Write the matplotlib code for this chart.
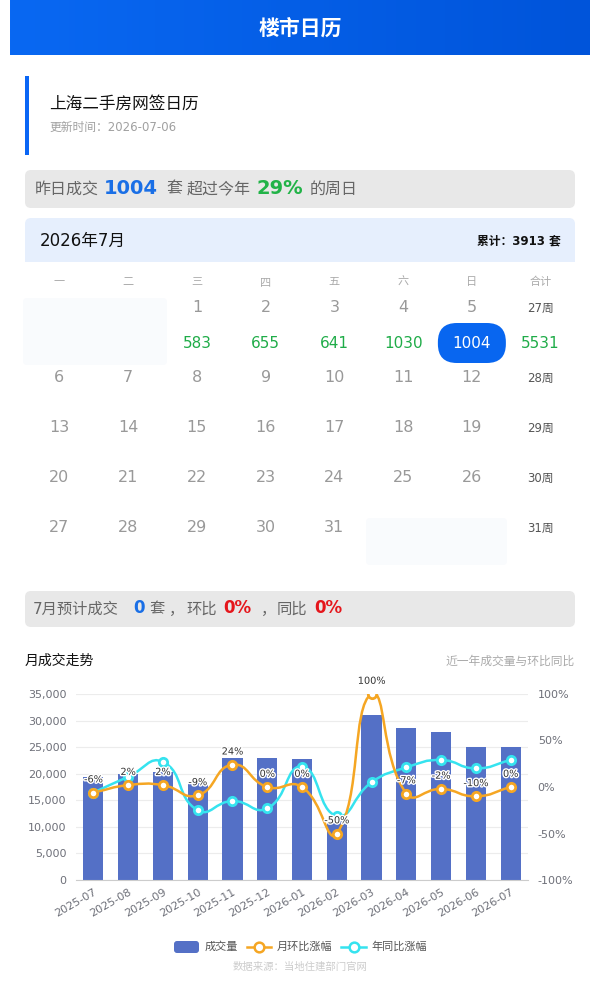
import numpy as np
import matplotlib
matplotlib.use("Agg")
import matplotlib.pyplot as plt
from matplotlib.patches import FancyBboxPatch, PathPatch
from matplotlib.path import Path
from matplotlib.ticker import FuncFormatter, MultipleLocator
from matplotlib.colors import LinearSegmentedColormap
import matplotlib.patheffects as pe

FONT = ['DejaVu Sans', 'Noto Sans CJK SC']
plt.rcParams['font.family'] = FONT

# ---- data ----
months = ['2025-07', '2025-08', '2025-09', '2025-10', '2025-11', '2025-12', '2026-01',
          '2026-02', '2026-03', '2026-04', '2026-05', '2026-06', '2026-07']
volumes = [19400, 19900, 20400, 18400, 22900, 22900, 22800, 11400, 31100, 28600, 27900, 25100, 25100]
mom = [-6, 2, 2, -9, 24, 0, 0, -50, 100, -7, -2, -10, 0]
yoy = [-6, 11, 27, -25, -15, -23, 22, -31, 5, 21, 29, 20, 29]

weekdays = ['一', '二', '三', '四', '五', '六', '日', '合计']
first_weekday = 2          # 2026-07-01 is a Wednesday
days_in_month = 31
day_values = {1: 583, 2: 655, 3: 641, 4: 1030, 5: 1004}
week_numbers = [27, 28, 29, 30, 31]
week_totals = {0: 5531}
today = 5

GREEN = '#1fac48'
RED = '#e5161c'

fig = plt.figure(figsize=(6, 9.84), dpi=100)
bg = fig.add_axes([0, 0, 1, 1])
bg.axis('off')


def box(x, y, w, h, color, r=6, z=1):
    p = FancyBboxPatch((x + r, y + r), w - 2 * r, h - 2 * r,
                       boxstyle='round,pad=%d' % r, fc=color, ec='none', zorder=z)
    bg.add_patch(p)


def txt(x, y, s, size, color, ha='left', weight='normal', z=5):
    bg.text(x, y, s, fontsize=size, color=color, ha=ha, va='center',
            fontweight=weight, zorder=z)


# header with gradient
grad = np.linspace(0, 1, 256).reshape(1, -1)
cmap = LinearSegmentedColormap.from_list('hdr', ['#0968f2', '#0054da'])
bg.imshow(grad, extent=[10, 590, 55, 0], cmap=cmap, aspect='auto', zorder=1)
bg.set_xlim(0, 600)
bg.set_ylim(984, 0)
txt(300, 28, '楼市日历', 15, 'white', ha='center', weight='bold')

# title block
bg.add_patch(plt.Rectangle((25, 76), 4, 79, fc='#0a66f5', ec='none'))
txt(49, 104, '上海二手房网签日历', 12, '#111111')
txt(49, 127, '更新时间：2026-07-06', 8.5, '#a0a0a0')

# summary box 1
box(25, 170, 550, 38, '#e8e8e8')
yy = 189
txt(35, yy, '昨日成交', 11.5, '#666666')
txt(104, yy - 1, '1004', 14, '#1a6fe6', weight='bold')
txt(166, yy, '套', 11.5, '#666666')
txt(187, yy, '超过今年', 11.5, '#666666')
txt(256, yy - 1, '29%', 14, '#22b348', weight='bold')
txt(310, yy, '的周日', 11.5, '#666666')

# calendar header
box(25, 218, 550, 50, '#e6effd')
bg.add_patch(plt.Rectangle((25, 262), 550, 10, fc='white', ec='none', zorder=2))
txt(40, 241, '2026年7月', 12, '#111111')
txt(561, 241, '累计：3913 套', 8.5, '#111111', ha='right', weight='bold')

col_x = [25 + 68.75 * (i + 0.5) for i in range(8)]
for i, w in enumerate(weekdays):
    txt(col_x[i], 282, w, 8, '#aaaaaa', ha='center')

row_y = [308, 378, 428, 478, 528]
value_y = 343

# placeholders for days outside the month
box(23, 298, 144, 67, '#f9fbfd', r=4, z=1)
box(366, 518, 141, 47, '#f9fbfd', r=4, z=1)

for d in range(1, days_in_month + 1):
    idx = first_weekday + d - 1
    r, c = divmod(idx, 7)
    txt(col_x[c], row_y[r], str(d), 11.5, '#999999', ha='center')
    if d in day_values:
        if d == today:
            box(col_x[c] - 34, value_y - 20, 68, 40, '#0866f0', r=19, z=3)
            txt(col_x[c], value_y, str(day_values[d]), 11, 'white', ha='center')
        else:
            txt(col_x[c], value_y, str(day_values[d]), 11, GREEN, ha='center')

for r, wk in enumerate(week_numbers):
    txt(col_x[7], row_y[r], '%d周' % wk, 8.5, '#555555', ha='center')
for r, tot in week_totals.items():
    txt(col_x[7], value_y, str(tot), 11, GREEN, ha='center')

# summary box 2
box(25, 591, 550, 36, '#e8e8e8')
yy = 609
txt(33, yy, '7月预计成交', 11, '#666666')
txt(133, yy - 1, '0', 12, '#1a6fe6', weight='bold')
txt(149, yy, '套', 11, '#666666')
txt(169, yy, '，', 11, '#666666')
txt(186, yy, '环比', 11, '#666666')
txt(223, yy - 1, '0%', 12, RED, weight='bold')
txt(261, yy, '，', 11, '#666666')
txt(277, yy, '同比', 11, '#666666')
txt(314, yy - 1, '0%', 12, RED, weight='bold')

# chart titles
txt(25, 661, '月成交走势', 10, '#111111')
txt(575, 661, '近一年成交量与环比同比', 8.5, '#aaaaaa', ha='right')

# ---- chart ----
L, R, T, B = 76, 528, 694, 880
ax = fig.add_axes([L / 600, 1 - B / 984, (R - L) / 600, (B - T) / 984])
ax2 = ax.twinx()
ax.set_zorder(1)
ax2.set_zorder(2)
ax2.patch.set_visible(False)

x = np.arange(len(months))
ax.bar(x, volumes, width=0.58, color='#5470c6', zorder=2)
ax.set_xlim(-0.5, len(months) - 0.5)
ax.set_ylim(0, 35000)
ax.yaxis.set_major_locator(MultipleLocator(5000))
ax.yaxis.set_major_formatter(FuncFormatter(lambda v, p: '{:,.0f}'.format(v)))
ax.grid(axis='y', color='#ececec', lw=0.8, zorder=0)
ax.set_axisbelow(True)
ax.set_xticks(x)
ax.set_xticklabels(months, rotation=30, ha='right', rotation_mode='anchor')
ax.tick_params(axis='x', length=0, pad=5, labelsize=8, labelcolor='#6e7079')
ax.tick_params(axis='y', length=0, pad=7, labelsize=8, labelcolor='#6e7079')
for s in ['top', 'left', 'right']:
    ax.spines[s].set_visible(False)
ax.spines['bottom'].set_color('#cccccc')

ax2.set_ylim(-100, 100)
ax2.yaxis.set_major_locator(MultipleLocator(50))
ax2.yaxis.set_major_formatter(FuncFormatter(lambda v, p: '%d%%' % v))
ax2.tick_params(axis='y', length=0, pad=7, labelsize=8, labelcolor='#6e7079')
for s in ax2.spines.values():
    s.set_visible(False)

# pixel scale of the percent axis, used for smoothing like echarts
sx = (R - L) / len(months)
sy = (B - T) / 200.0


def smooth_path(xs, ys, smooth=0.5):
    px = np.array(xs, float) * sx
    py = np.array(ys, float) * sy
    n = len(px)
    cps_in, cps_out = [], []
    for i in range(n):
        p0 = i - 1 if i > 0 else i
        p2 = i + 1 if i < n - 1 else i
        vx, vy = px[p2] - px[p0], py[p2] - py[p0]
        l0 = np.hypot(px[i] - px[p0], py[i] - py[p0])
        l1 = np.hypot(px[p2] - px[i], py[p2] - py[i])
        ratio = l1 / (l0 + l1) if (l0 + l1) > 0 else 0.5
        cps_out.append((px[i] + vx * smooth * ratio, py[i] + vy * smooth * ratio))
        cps_in.append((px[i] - vx * smooth * (1 - ratio), py[i] - vy * smooth * (1 - ratio)))
    verts = [(px[0], py[0])]
    codes = [Path.MOVETO]
    for i in range(n - 1):
        verts += [cps_out[i], cps_in[i + 1], (px[i + 1], py[i + 1])]
        codes += [Path.CURVE4] * 3
    verts = [(a / sx, b / sy) for a, b in verts]
    return Path(verts, codes)


for series, color in [(yoy, '#35e3ef'), (mom, '#f5a623')]:
    ax2.add_patch(PathPatch(smooth_path(x, series), fill=False, ec=color, lw=1.8, zorder=3))
    ax2.plot(x, series, 'o', ms=6, mfc='white', mec=color, mew=2, zorder=4)

for xi, v in zip(x, mom):
    ax2.annotate('%d%%' % v, (xi, v), xytext=(0, 9.5), textcoords='offset points',
                 ha='center', va='center', fontsize=7, color='#333333', zorder=6,
                 path_effects=[pe.withStroke(linewidth=2, foreground='white')])

# legend
box(174, 941, 25, 12, '#5470c6', r=3, z=3)
txt(205, 947, '成交量', 8, '#555555')
bg.plot([247, 271], [947, 947], color='#f5a623', lw=1.8)
bg.plot([259], [947], 'o', ms=7, mfc='white', mec='#f5a623', mew=1.8)
txt(277, 947, '月环比涨幅', 8, '#555555')
bg.plot([341, 366], [947, 947], color='#35e3ef', lw=1.8)
bg.plot([353.5], [947], 'o', ms=7, mfc='white', mec='#35e3ef', mew=1.8)
txt(371, 947, '年同比涨幅', 8, '#555555')
txt(300, 967, '数据来源：当地住建部门官网', 7.5, '#cccccc', ha='center')

fig.savefig('out.png', dpi=100)
